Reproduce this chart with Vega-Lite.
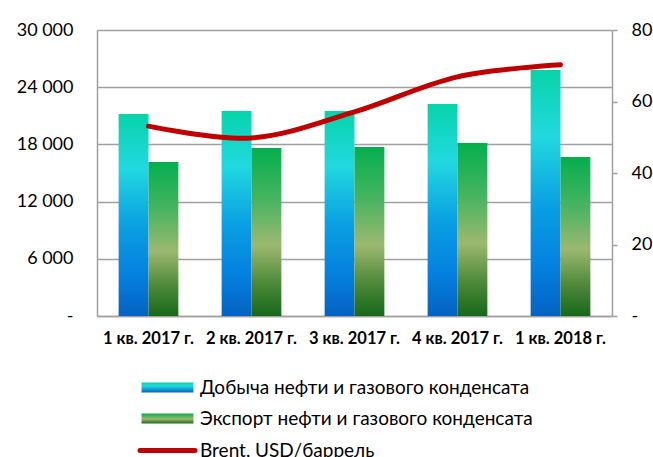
{
  "$schema": "https://vega.github.io/schema/vega-lite/v6.json",
  "width": 515,
  "height": 286,
  "autosize": "none",
  "padding": {"left": 97, "top": 30, "right": 41, "bottom": 141},
  "background": "white",
  "config": {
    "view": {"stroke": null},
    "font": "Lato",
    "axis": {"labelFont": "Lato", "labelColor": "#000000", "titleFont": "Lato"},
    "legend": {"labelFont": "Lato"}
  },
  "datasets": {
    "bars": [
      {"q": "1 кв. 2017 г.", "series": "Добыча нефти и газового конденсата", "value": 21190},
      {"q": "1 кв. 2017 г.", "series": "Экспорт нефти и газового конденсата", "value": 16150},
      {"q": "2 кв. 2017 г.", "series": "Добыча нефти и газового конденсата", "value": 21500},
      {"q": "2 кв. 2017 г.", "series": "Экспорт нефти и газового конденсата", "value": 17620},
      {"q": "3 кв. 2017 г.", "series": "Добыча нефти и газового конденсата", "value": 21500},
      {"q": "3 кв. 2017 г.", "series": "Экспорт нефти и газового конденсата", "value": 17730},
      {"q": "4 кв. 2017 г.", "series": "Добыча нефти и газового конденсата", "value": 22240},
      {"q": "4 кв. 2017 г.", "series": "Экспорт нефти и газового конденсата", "value": 18150},
      {"q": "1 кв. 2018 г.", "series": "Добыча нефти и газового конденсата", "value": 25800},
      {"q": "1 кв. 2018 г.", "series": "Экспорт нефти и газового конденсата", "value": 16680}
    ],
    "brent": [
      {"q": "1 кв. 2017 г.", "price": 53.1},
      {"q": "2 кв. 2017 г.", "price": 49.8},
      {"q": "3 кв. 2017 г.", "price": 57.1},
      {"q": "4 кв. 2017 г.", "price": 66.9},
      {"q": "1 кв. 2018 г.", "price": 70.3}
    ]
  },
  "encoding": {
    "x": {
      "field": "q",
      "type": "nominal",
      "sort": ["1 кв. 2017 г.", "2 кв. 2017 г.", "3 кв. 2017 г.", "4 кв. 2017 г.", "1 кв. 2018 г."],
      "scale": {"paddingInner": 0.42, "paddingOuter": 0.21},
      "axis": {
        "title": null,
        "labelAngle": 0,
        "labelFontSize": 16.5,
        "labelFontWeight": "bold",
        "labelPadding": 14,
        "labelLimit": 200,
        "ticks": false,
        "domain": true,
        "domainColor": "#A0A0A0",
        "domainWidth": 1.5,
        "grid": false
      }
    }
  },
  "layer": [
    {
      "data": {"name": "bars"},
      "mark": {"type": "bar"},
      "encoding": {
        "xOffset": {
          "field": "series",
          "type": "nominal",
          "scale": {"domain": ["Добыча нефти и газового конденсата", "Экспорт нефти и газового конденсата"], "paddingInner": 0, "paddingOuter": 0}
        },
        "y": {
          "field": "value",
          "type": "quantitative",
          "scale": {"domain": [0, 30000], "nice": false},
          "axis": {
            "title": null,
            "orient": "left",
            "values": [0, 6000, 12000, 18000, 24000, 30000],
            "labelExpr": "datum.value === 0 ? '-' : replace(format(datum.value, ','), ',', ' ')",
            "labelFontSize": 18,
            "labelPadding": 24,
            "ticks": false,
            "domain": true,
            "domainColor": "#A0A0A0",
            "domainWidth": 1.5,
            "grid": true,
            "gridColor": "#A0A0A0",
            "gridWidth": 1.5
          }
        },
        "fill": {
          "condition": {
            "test": "datum.series === 'Добыча нефти и газового конденсата'",
            "value": {
              "gradient": "linear", "x1": 0, "y1": 0, "x2": 0, "y2": 1,
              "stops": [
                {"offset": 0, "color": "#05D4AA"},
                {"offset": 0.27, "color": "#22D8E0"},
                {"offset": 0.55, "color": "#0AA0E2"},
                {"offset": 0.8, "color": "#0480E0"},
                {"offset": 1, "color": "#0562C0"}
              ]
            }
          },
          "value": {
            "gradient": "linear", "x1": 0, "y1": 0, "x2": 0, "y2": 1,
            "stops": [
              {"offset": 0, "color": "#04AF4E"},
              {"offset": 0.3, "color": "#45B460"},
              {"offset": 0.58, "color": "#9CB870"},
              {"offset": 0.8, "color": "#4E8A3A"},
              {"offset": 1, "color": "#18681A"}
            ]
          }
        }
      }
    },
    {
      "data": {"name": "brent"},
      "mark": {"type": "line", "strokeWidth": 5, "interpolate": "catmull-rom", "strokeCap": "round"},
      "encoding": {
        "y": {
          "field": "price",
          "type": "quantitative",
          "scale": {"domain": [0, 80], "nice": false},
          "axis": {
            "title": null,
            "orient": "right",
            "values": [0, 20, 40, 60, 80],
            "labelExpr": "datum.value === 0 ? '-' : format(datum.value, 'd')",
            "labelFontSize": 18,
            "labelPadding": 14,
            "ticks": true,
            "tickSize": 5,
            "tickColor": "#A0A0A0",
            "tickWidth": 1.5,
            "domain": true,
            "domainColor": "#A0A0A0",
            "domainWidth": 1.5,
            "grid": false
          }
        },
        "color": {
          "datum": "Brent, USD/баррель",
          "type": "nominal",
          "scale": {
            "domain": ["Добыча нефти и газового конденсата", "\u00a0Экспорт нефти и газового конденсата", "Brent, USD/баррель"],
            "range": ["#1CC8DC", "#3AA050", "#C00000"]
          },
          "legend": {
            "title": null,
            "orient": "none",
            "legendX": 61,
            "legendY": 348,
            "direction": "vertical",
            "padding": 0,
            "labelFontSize": 19,
            "labelColor": "#000000",
            "labelOffset": 23,
            "symbolSize": 100,
            "rowPadding": 11,
            "labelLimit": 500,
            "encode": {
              "symbols": {
                "update": {
                  "shape": {"signal": "datum.value === 'Brent, USD/баррель' ? 'M-5.5,0H5.5' : 'M-5.2,-1H5.2V1H-5.2Z'"},
                  "fill": {"signal": "datum.value === 'Brent, USD/баррель' ? 'transparent' : (datum.value === 'Добыча нефти и газового конденсата' ? {gradient: 'linear', x1: 0, y1: 0, x2: 0, y2: 1, stops: [{offset: 0, color: '#05D4AA'}, {offset: 0.35, color: '#22D8E0'}, {offset: 1, color: '#0562C0'}]} : {gradient: 'linear', x1: 0, y1: 0, x2: 0, y2: 1, stops: [{offset: 0, color: '#04AF4E'}, {offset: 0.55, color: '#9CB870'}, {offset: 1, color: '#18681A'}]})"},
                  "stroke": {"signal": "datum.value === 'Brent, USD/баррель' ? '#C00000' : 'transparent'"},
                  "strokeWidth": {"signal": "datum.value === 'Brent, USD/баррель' ? 5 : 0"},
                  "strokeCap": {"value": "round"},
                  "opacity": {"value": 1}
                }
              }
            }
          }
        }
      }
    }
  ],
  "resolve": {"scale": {"y": "independent"}}
}
